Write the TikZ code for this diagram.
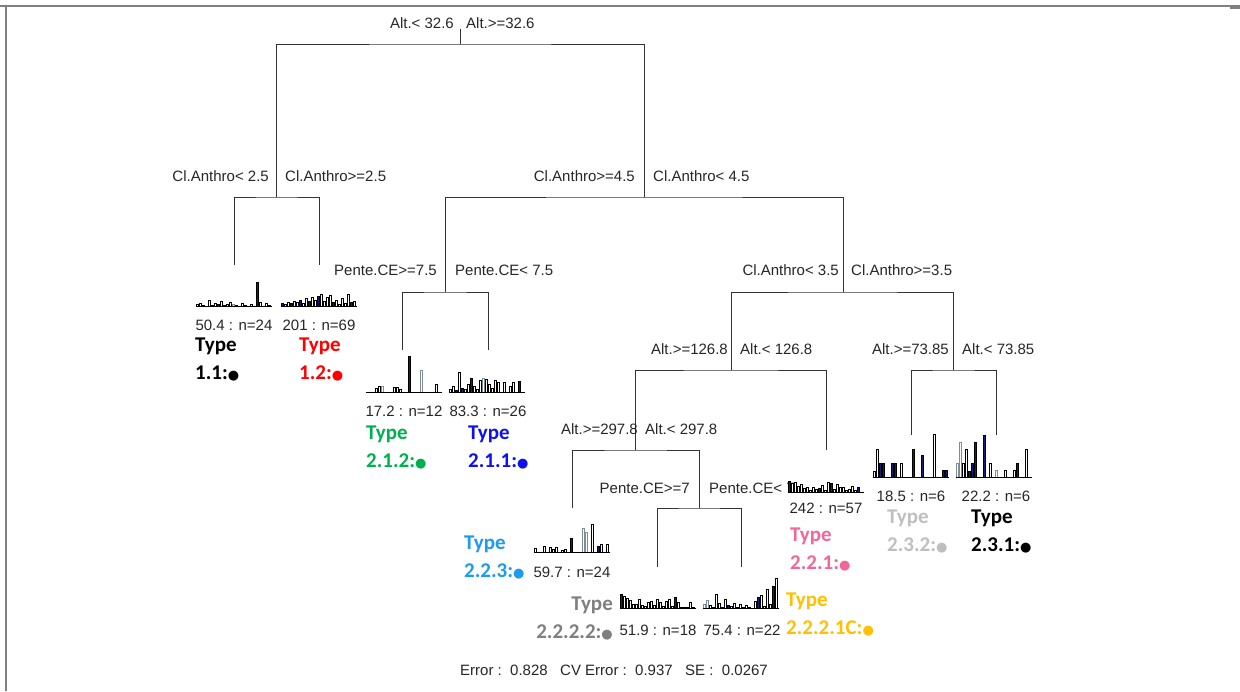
\documentclass[tikz,border=0pt]{standalone}
\usepackage{fontspec}
\setmainfont{Liberation Sans}
\newfontfamily\typefont{Carlito}
\newfontfamily\dotfont{DejaVu Sans}
\definecolor{tgreen}{HTML}{00B050}
\definecolor{tblue}{HTML}{1010E8}
\definecolor{tlblue}{HTML}{1C9BF0}
\definecolor{tgray}{HTML}{7F7F7F}
\definecolor{tgold}{HTML}{FFC000}
\definecolor{tpink}{HTML}{F2669A}
\definecolor{tlgray}{HTML}{BFBFBF}
\definecolor{hb}{HTML}{1A1A7A}
\definecolor{hg}{HTML}{7E8C96}
\newcommand\tdot{{\dotfont\fontsize{13}{13}\selectfont ●}}
\newcommand\hist[3]{%
  \foreach \h/\c [count=\i] in {#3} {%
    \ifnum\h>0
      \if\c b\filldraw[histbar,fill=hb] ({#1+(\i-1)*3},#2) rectangle ++(2.4,-\h);\fi
      \if\c k\filldraw[histbar,fill=white] ({#1+(\i-1)*3},#2) rectangle ++(2.4,-\h);\fi
      \if\c g\filldraw[histbar,draw=hg,fill=white] ({#1+(\i-1)*3},#2) rectangle ++(2.4,-\h);\fi
    \fi}%
  \draw[histbase] (#1,#2) -- ++(76,0);}
\begin{document}
\begin{tikzpicture}[x=1pt,y=-1pt,
  tree/.style={draw=black!80,line width=1pt},
  histbar/.style={draw=black,line width=0.6pt},
  histbase/.style={draw=black,line width=1pt},
  lab/.style={inner sep=0pt,text=black!85,font=\fontsize{15}{17}\selectfont},
  labl/.style={lab,anchor=east},
  labr/.style={lab,anchor=west},
  num/.style={lab,anchor=center},
  typelab/.style={inner sep=0pt,align=left,anchor=west,font=\typefont\bfseries\fontsize{21}{28}\selectfont},
  frame/.style={draw=black!50}]
\useasboundingbox (0,0) rectangle (1240,691);
% frame
\draw[frame,line width=1.5pt] (0,6) -- (1240,6);
\fill[black!50] (1230,5) rectangle (1240,9);
\draw[frame,line width=2pt] (5.5,6) -- (5.5,691);
% split and leaf coordinates
\coordinate (rt) at (460,29);
\coordinate (r) at (460,44);
\coordinate (n1) at (276.5,197);
\coordinate (n2) at (644,197);
\coordinate (l11) at (234,265);
\coordinate (l12) at (319,265);
\coordinate (n21) at (445,292);
\coordinate (n22) at (843,292);
\coordinate (l212) at (402,350);
\coordinate (l211) at (488,350);
\coordinate (n221) at (731,370);
\coordinate (n23) at (953.5,370);
\coordinate (n2211) at (635.5,450);
\coordinate (l221) at (826,450);
\coordinate (l223) at (572,508);
\coordinate (n2222) at (699,508);
\coordinate (l2222) at (657,567);
\coordinate (l2221) at (741,567);
\coordinate (l232) at (911,435);
\coordinate (l231) at (996,435);
% tree
\draw[tree] (rt) -- (r);
\draw[tree] (n1) |- (r) -| (n2);
\draw[tree] (l11) |- (n1) -| (l12);
\draw[tree] (n21) |- (n2) -| (n22);
\draw[tree] (l212) |- (n21) -| (l211);
\draw[tree] (n221) |- (n22) -| (n23);
\draw[tree] (n2211) |- (n221) -| (l221);
\draw[tree] (l223) |- (n2211) -| (n2222);
\draw[tree] (l2222) |- (n2222) -| (l2221);
\draw[tree] (l232) |- (n23) -| (l231);
% split labels
\node[labl] (s0l) at (454,23) {Alt.< 32.6};
\node[labr] (s0r) at (466,23) {Alt.>=32.6};
\node[labl] (s1l) at (269,176) {Cl.Anthro< 2.5};
\node[labr] (s1r) at (285,176) {Cl.Anthro>=2.5};
\node[labl] (s2l) at (635,176) {Cl.Anthro>=4.5};
\node[labr] (s2r) at (653,176) {Cl.Anthro< 4.5};
\node[labl] (s21l) at (437,270) {Pente.CE>=7.5};
\node[labr] (s21r) at (455,270) {Pente.CE< 7.5};
\node[labl] (s22l) at (839,270) {Cl.Anthro< 3.5};
\node[labr] (s22r) at (851,270) {Cl.Anthro>=3.5};
\node[labl] (s221l) at (728,349) {Alt.>=126.8};
\node[labr] (s221r) at (740,349) {Alt.< 126.8};
\node[labl] (s23l) at (949,349) {Alt.>=73.85};
\node[labr] (s23r) at (962,349) {Alt.< 73.85};
\node[labl] (s2211l) at (638,429) {Alt.>=297.8};
\node[labr] (s2211r) at (645,429) {Alt.< 297.8};
\node[labl] (s2222l) at (690,488) {Pente.CE>=7};
\node[labr] (s2222r) at (709,488) {Pente.CE< 7};
% histograms
\hist{196}{306}{2/k,3/k,1/k,0/k,6/k,1/k,3/k,2/b,5/k,1/k,2/k,4/k,2/g,1/k,0/k,3/k,1/k,0/k,2/k,0/k,24/b,4/k,0/k,3/k,1/k}
\hist{281}{306}{3/b,2/k,4/k,3/b,5/k,4/k,6/b,3/k,8/k,5/b,9/k,6/k,10/b,12/k,5/k,9/k,11/k,4/b,6/k,2/k,8/k,3/k,12/k,4/b,5/k}
\hist{366}{392}{0/k,0/k,0/k,4/k,6/k,6/g,0/k,0/k,0/k,5/k,5/k,3/k,0/k,0/k,36/b,0/k,0/k,0/k,22/g,0/k,0/k,0/k,0/k,8/k,0/k}
\hist{449}{392}{3/k,6/k,2/b,20/k,4/b,3/k,8/k,14/b,6/k,3/k,12/k,14/g,13/k,8/k,4/k,12/k,10/k,0/k,10/k,0/k,6/k,10/k,0/k,11/b,0/k}
\hist{534}{552}{4/k,0/k,0/k,6/k,0/k,5/k,3/k,5/k,0/k,2/k,3/k,0/k,14/b,0/k,0/k,0/k,24/g,20/g,0/k,28/k,0/k,6/b,8/k,0/k,8/k}
\hist{620}{608}{14/b,12/k,10/k,8/k,4/k,4/k,9/k,3/k,2/k,6/k,7/k,3/k,9/k,6/k,2/k,7/k,9/k,2/k,11/b,6/k,1/k,1/k,1/k,6/k,1/k}
\hist{703}{608}{4/g,8/g,3/k,1/k,14/k,5/k,1/k,9/k,3/b,2/k,5/k,1/k,4/k,1/k,3/k,1/k,0/k,7/k,11/b,13/k,2/k,19/k,4/k,22/b,30/k}
\hist{788}{492}{11/b,9/k,10/k,6/k,8/k,4/k,5/k,2/k,5/k,3/k,4/b,7/k,2/k,10/k,9/b,3/k,8/k,5/k,5/k,2/k,3/k,6/k,2/k,5/b,0/k}
\hist{873}{477}{6/k,28/k,14/b,14/b,0/k,0/k,14/b,14/b,0/k,14/k,0/k,0/k,0/k,28/b,0/k,0/k,22/b,0/k,0/k,0/k,43/k,0/k,0/k,7/b,7/b}
\hist{956}{477}{14/g,35/g,14/k,28/k,6/b,14/b,35/b,0/k,0/k,42/b,0/k,14/k,0/k,7/g,0/k,0/k,7/k,0/k,0/k,7/k,14/b,0/k,0/k,28/k,0/k}
% leaf numbers
\node[num] (v11) at (234,325) {50.4 : n=24};
\node[num] (v12) at (319,325) {201 : n=69};
\node[num] (v212) at (404,411) {17.2 : n=12};
\node[num] (v211) at (488,411) {83.3 : n=26};
\node[num] (v223) at (572,572) {59.7 : n=24};
\node[num] (v2222) at (658,630) {51.9 : n=18};
\node[num] (v2221) at (742,630) {75.4 : n=22};
\node[num] (v221) at (826,508) {242 : n=57};
\node[num] (v232) at (911,496) {18.5 : n=6};
\node[num] (v231) at (996,496) {22.2 : n=6};
% type labels
\node[typelab,text=black] (t11) at (195,359) {Type\\1.1:\tdot};
\node[typelab,text=red] (t12) at (299,359) {Type\\1.2:\tdot};
\node[typelab,text=tgreen] (t212) at (366,447) {Type\\2.1.2:\tdot};
\node[typelab,text=tblue] (t211) at (468,447) {Type\\2.1.1:\tdot};
\node[typelab,text=tlblue] (t223) at (464,557) {Type\\2.2.3:\tdot};
\node[typelab,text=tgray,align=right,anchor=east] (t2222) at (613,618) {Type\\2.2.2.2:\tdot};
\node[typelab,text=tgold] (t2221) at (786,614) {Type\\2.2.2.1C:\tdot};
\node[typelab,text=tpink] (t221) at (790,549) {Type\\2.2.1:\tdot};
\node[typelab,text=tlgray] (t232) at (887,531) {Type\\2.3.2:\tdot};
\node[typelab,text=black] (t231) at (971,531) {Type\\2.3.1:\tdot};
% error line
\node[num] (err) at (614,670) {Error :\ \ 0.828\ \ \ CV Error :\ \ 0.937\ \ \ SE :\ \ 0.0267};
\end{tikzpicture}
\end{document}
